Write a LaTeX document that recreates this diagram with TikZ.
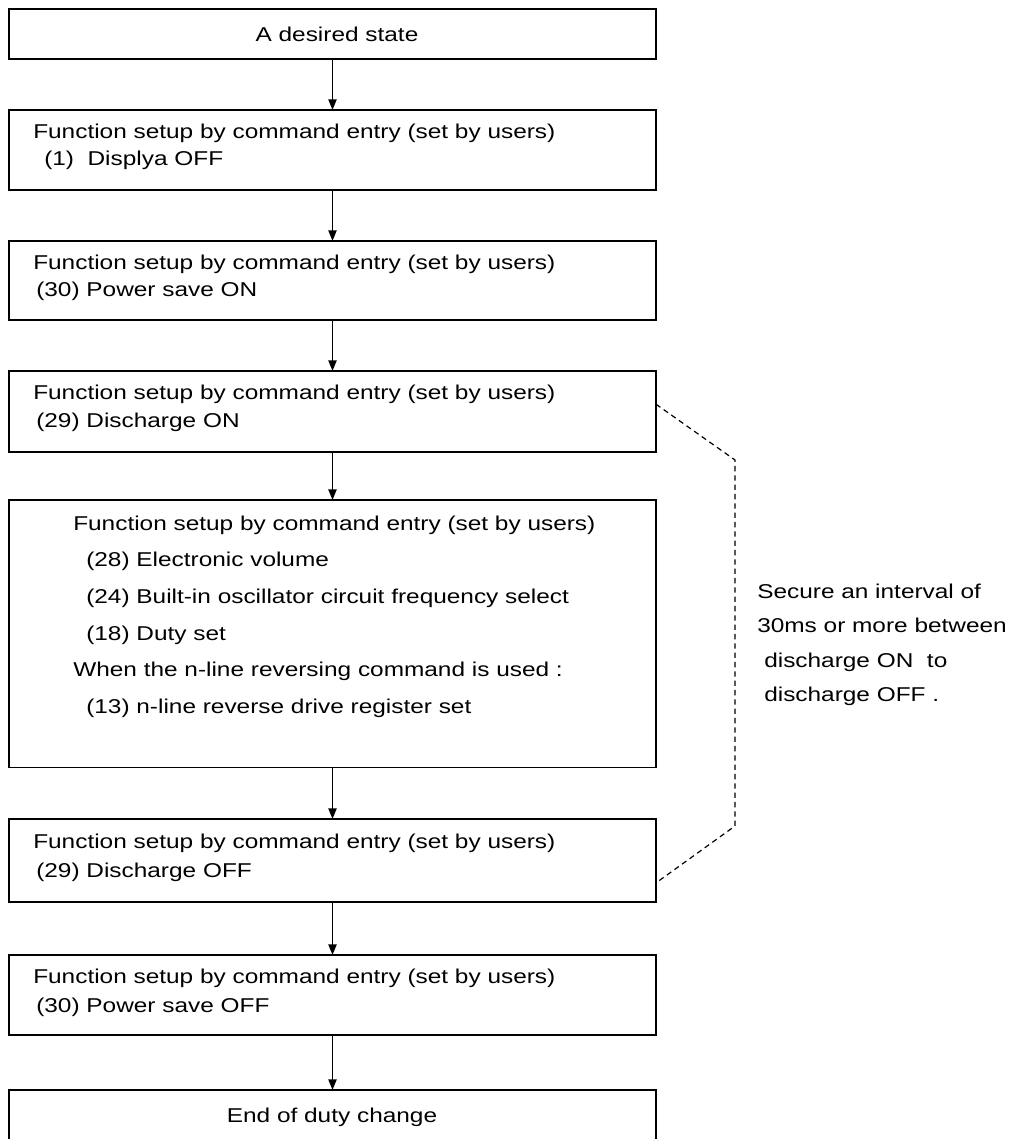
\documentclass[tikz,border=0pt]{standalone}
\usepackage{fontspec}
\setmainfont[FakeStretch=1.22]{Liberation Sans}
\usetikzlibrary{arrows.meta,calc}
\begin{document}
\begin{tikzpicture}[x=0.75pt,y=-0.75pt,
  box/.style={draw, line width=1pt, minimum width=485.25pt, inner sep=0pt, outer sep=0pt},
  termbox/.style={box, line width=1.6pt},
  txt/.style={anchor=base west, inner sep=0pt, font=\fontsize{15pt}{18pt}\selectfont},
  ctxt/.style={anchor=base, inner sep=0pt, font=\fontsize{15pt}{18pt}\selectfont},
  arr/.style={line width=1pt, -{Triangle[length=8pt,width=6.2pt]}},
  dline/.style={line width=0.9pt, dash pattern=on 4pt off 3pt}]
\useasboundingbox (0,0) rectangle (1010,1139);
\clip (0,0) rectangle (1010,1139);

% boxes
\node[termbox, minimum height=37.5pt] (top) at (332.5,34) {};
\node[box, minimum height=60pt]    (b2) at (332.5,150) {};
\node[box, minimum height=59.25pt] (b3) at (332.5,280.5) {};
\node[box, minimum height=60.75pt] (b4) at (332.5,411.5) {};
\node[box, minimum height=200.6pt] (b5) at (332.5,633.75) {};
\node[box, minimum height=62.25pt] (b6) at (332.5,860.5) {};
\node[box, minimum height=60pt]    (b7) at (332.5,995) {};
\node[termbox, minimum height=60pt] (bot) at (332.5,1130) {};

% texts
\node[ctxt] (t1) at (337,41.5) {A desired state};

\node[txt] (t2a) at (33,138) {Function setup by command entry (set by users)};
\node[txt] (t2b) at (44,165) {(1)~ Displya OFF};

\node[txt] (t3a) at (33,269) {Function setup by command entry (set by users)};
\node[txt] (t3b) at (36,296) {(30) Power save ON};

\node[txt] (t4a) at (33,399.5) {Function setup by command entry (set by users)};
\node[txt] (t4b) at (36,427) {(29) Discharge ON};

\node[txt] (t5a) at (73,530) {Function setup by command entry (set by users)};
\node[txt] (t5b) at (86,566.7) {(28) Electronic volume};
\node[txt] (t5c) at (86,603.3) {(24) Built-in oscillator circuit frequency select};
\node[txt] (t5d) at (86,640) {(18) Duty set};
\node[txt] (t5e) at (73,676.7) {When the n-line reversing command is used :};
\node[txt] (t5f) at (86,713.3) {(13) n-line reverse drive register set};

\node[txt] (t6a) at (33,848) {Function setup by command entry (set by users)};
\node[txt] (t6b) at (36,877) {(29) Discharge OFF};

\node[txt] (t7a) at (33,983.5) {Function setup by command entry (set by users)};
\node[txt] (t7b) at (36,1012) {(30) Power save OFF};

\node[ctxt] (t8) at (332,1122) {End of duty change};

% side note
\node[txt] (n1) at (757,598) {Secure an interval of};
\node[txt] (n2) at (757,632.5) {30ms or more between};
\node[txt] (n3) at (764,667) {discharge ON~ to};
\node[txt] (n4) at (764,701.5) {discharge OFF .};

% arrows
\draw[arr] (top.south) -- (b2.north);
\draw[arr] (b2.south) -- (b3.north);
\draw[arr] (b3.south) -- (b4.north);
\draw[arr] (b4.south) -- (b5.north);
\draw[arr] (b5.south) -- (b6.north);
\draw[arr] (b6.south) -- (b7.north);
\draw[arr] (b7.south) -- (bot.north);

% dashed bracket
\coordinate (d1) at (735,460);
\coordinate (d2) at (735,826);
\draw[dline] ($(b4.north east)!0.41!(b4.south east)$) -- (d1) -- (d2)
  -- ($(b6.north east)!0.77!(b6.south east)$);
\end{tikzpicture}
\end{document}
